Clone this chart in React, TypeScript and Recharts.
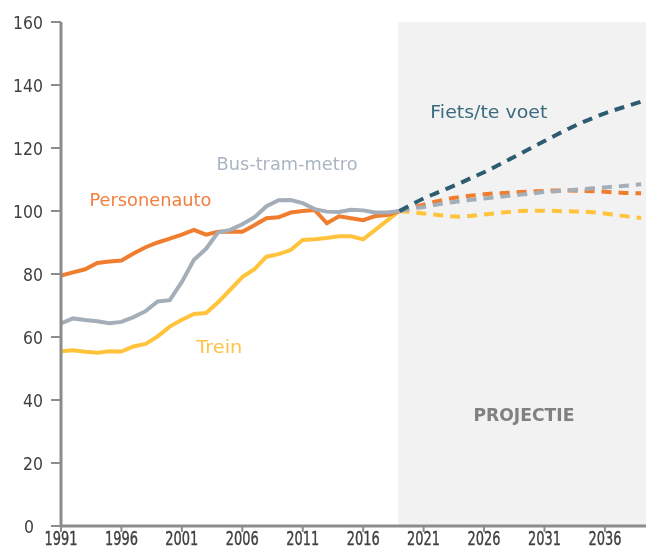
import { LineChart, Line, XAxis, YAxis, ReferenceArea, ReferenceDot } from 'recharts';

const histYears = [
  1991, 1992, 1993, 1994, 1995, 1996, 1997, 1998, 1999, 2000,
  2001, 2002, 2003, 2004, 2005, 2006, 2007, 2008, 2009, 2010,
  2011, 2012, 2013, 2014, 2015, 2016, 2017, 2018, 2019,
];
const projYears = [
  2019, 2020, 2021, 2022, 2023, 2024, 2025, 2026, 2027, 2028,
  2029, 2030, 2031, 2032, 2033, 2034, 2035, 2036, 2037, 2038, 2039,
];

// historical index (2019 = 100)
const personenauto = [
  79.5, 80.5, 81.5, 83.5, 84, 84.3, 86.5, 88.5, 90, 91.2,
  92.5, 94, 92.5, 93.4, 93.5, 93.4, 95.5, 97.7, 98, 99.5,
  100, 100.3, 96.1, 98.3, 97.7, 97.1, 98.4, 98.7, 100,
];
const busTramMetro = [
  64.3, 65.9, 65.4, 65, 64.4, 64.8, 66.3, 68.2, 71.3, 71.7,
  77.5, 84.5, 88, 93.2, 94, 95.8, 98, 101.5, 103.4, 103.5,
  102.5, 100.6, 99.8, 99.7, 100.4, 100.2, 99.5, 99.5, 100,
];
const trein = [
  55.5, 55.8, 55.3, 55, 55.5, 55.4, 57, 57.8, 60.2, 63.3,
  65.5, 67.3, 67.6, 71, 75, 79, 81.5, 85.5, 86.3, 87.6,
  90.8, 91, 91.4, 92, 92, 91, 94, 97, 100,
];

// projections
const fietsProj = [
  100, 102, 104, 105.6, 107.2, 108.8, 110.6, 112.3, 114.2, 116.2,
  118.2, 120.2, 122.2, 124.2, 126.1, 127.9, 129.5, 131, 132.3, 133.5, 134.7,
];
const autoProj = [
  100, 101, 102, 103, 103.8, 104.4, 104.9, 105.3, 105.6, 105.8,
  106, 106.2, 106.4, 106.5, 106.5, 106.4, 106.3, 106.1, 105.9, 105.7, 105.6,
];
const busProj = [
  100, 100.7, 101.3, 102, 102.6, 103.1, 103.6, 104, 104.4, 104.8,
  105.2, 105.6, 106, 106.3, 106.6, 106.9, 107.2, 107.5, 107.8, 108.1, 108.5,
];
const treinProj = [
  100, 99.6, 99.2, 98.8, 98.4, 98.2, 98.5, 98.9, 99.3, 99.7,
  100, 100.1, 100.1, 100, 99.9, 99.8, 99.6, 99.2, 98.7, 98.2, 97.8,
];

const xTicks = [1991, 1996, 2001, 2006, 2011, 2016, 2021, 2026, 2031, 2036];
const yTicks = [0, 20, 40, 60, 80, 100, 120, 140, 160];

const allYears = Array.from(new Set([...histYears, ...projYears]));
const data = allYears.map((year) => {
  const h = histYears.indexOf(year);
  const p = projYears.indexOf(year);
  return {
    year,
    auto: h >= 0 ? personenauto[h] : null,
    bus: h >= 0 ? busTramMetro[h] : null,
    trein: h >= 0 ? trein[h] : null,
    fietsP: p >= 0 ? fietsProj[p] : null,
    autoP: p >= 0 ? autoProj[p] : null,
    busP: p >= 0 ? busProj[p] : null,
    treinP: p >= 0 ? treinProj[p] : null,
  };
});

const ORANGE = '#F07D2E';
const GRAY = '#A4AEB9';
const YELLOW = '#FFC33C';
const TEAL = '#2C5C6F';
const AXIS = '#8C8C8C';
const FONT = '"DejaVu Sans", sans-serif';

function XTick({ x, y, payload }: any) {
  return (
    <text x={x} y={y} dy={13} textAnchor="middle" fontSize={19} fontFamily={FONT}
      textLength={33} lengthAdjust="spacingAndGlyphs" fill="#404040"
      stroke="#404040" strokeWidth={0.4}>
      {payload.value}
    </text>
  );
}

function YTick({ x, y, payload }: any) {
  const s = String(payload.value);
  const shift = payload.value === 0 ? -9 : 0;
  return (
    <text x={x + shift} y={y} dy={6.5} textAnchor="end" fontSize={18} fontFamily={FONT}
      textLength={s.length * 10} lengthAdjust="spacingAndGlyphs" fill="#404040">
      {s}
    </text>
  );
}

// text drawn at a data point, stretched to the width seen in the reference
const textAt = (value: string, fill: string, len: number, size = 18, weight = 'normal') =>
  (p: any) => (
    <text x={p.cx} y={p.cy} dy={size * 0.36} textAnchor="middle" fontSize={size}
      fontWeight={weight} fontFamily={FONT} fill={fill}
      textLength={len} lengthAdjust="spacingAndGlyphs">
      {value}
    </text>
  );

export default function App() {
  return (
    <div style={{ position: 'fixed', left: 0, top: 0, width: 646, height: 549 }}>
      <LineChart width={646} height={549} data={data}
        margin={{ top: 22, right: 0, left: 16, bottom: 3 }}>
        <ReferenceArea x1={2018.9} x2={2039.4} y1={0} y2={160} fill="#F2F2F2" fillOpacity={1} stroke="none" />
        <XAxis dataKey="year" type="number" domain={[1991, 2039.4]} allowDataOverflow
          ticks={xTicks} interval={0} height={20} tickSize={6} tickMargin={0}
          axisLine={{ stroke: AXIS, strokeWidth: 3 }} tickLine={{ stroke: AXIS, strokeWidth: 2 }}
          tick={<XTick />} />
        <YAxis domain={[0, 160]} ticks={yTicks} interval={0} width={45} tickSize={10} tickMargin={8}
          axisLine={{ stroke: AXIS, strokeWidth: 3 }} tickLine={{ stroke: AXIS, strokeWidth: 2 }}
          tick={<YTick />} />

        <Line dataKey="trein" stroke={YELLOW} strokeWidth={4} dot={false} type="linear" isAnimationActive={false} />
        <Line dataKey="auto" stroke={ORANGE} strokeWidth={4} dot={false} type="linear" isAnimationActive={false} />
        <Line dataKey="bus" stroke={GRAY} strokeWidth={4} dot={false} type="linear" isAnimationActive={false} />

        <Line dataKey="treinP" stroke={YELLOW} strokeWidth={4} strokeDasharray="10 7" dot={false} type="monotone" isAnimationActive={false} />
        <Line dataKey="autoP" stroke={ORANGE} strokeWidth={4} strokeDasharray="10 7" dot={false} type="monotone" isAnimationActive={false} />
        <Line dataKey="busP" stroke={GRAY} strokeWidth={4} strokeDasharray="10 7" dot={false} type="monotone" isAnimationActive={false} />
        <Line dataKey="fietsP" stroke={TEAL} strokeWidth={4} strokeDasharray="10 7" dot={false} type="monotone" isAnimationActive={false} />

        <ReferenceDot x={1998.4} y={103.5} r={1} shape={textAt('Personenauto', '#F08040', 122)} />
        <ReferenceDot x={2009.7} y={115.2} r={1} shape={textAt('Bus-tram-metro', '#A9B5C3', 141)} />
        <ReferenceDot x={2004.1} y={57.1} r={1} shape={textAt('Trein', '#FFC343', 46)} />
        <ReferenceDot x={2026.4} y={131.7} r={1} shape={textAt('Fiets/te voet', '#3A6A7E', 117)} />
        <ReferenceDot x={2029.3} y={35.2} r={1} shape={textAt('PROJECTIE', '#808080', 101, 17, 'bold')} />
      </LineChart>
    </div>
  );
}
